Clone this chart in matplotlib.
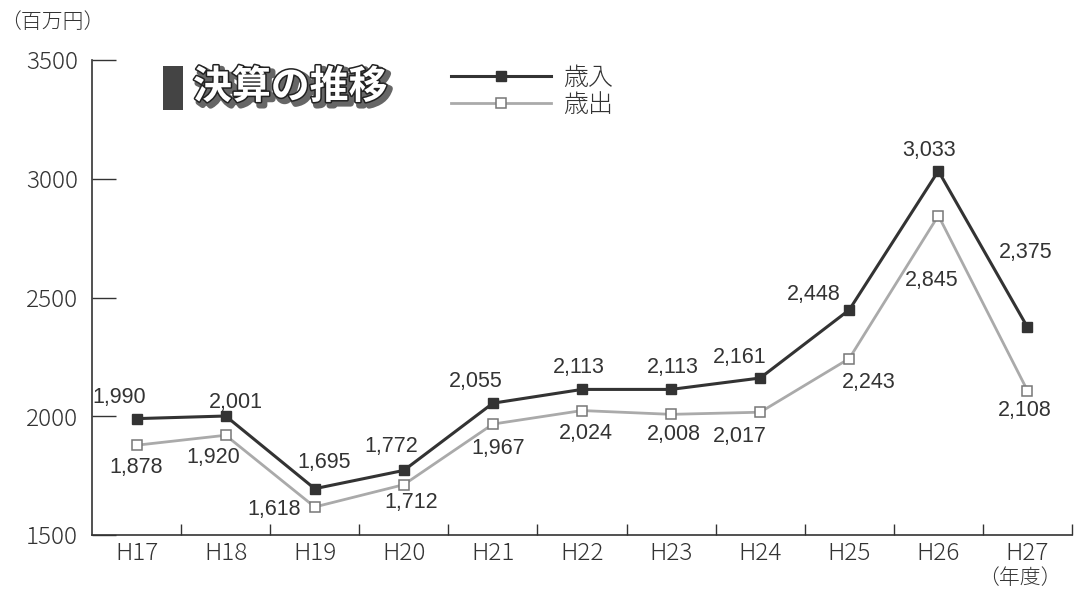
import matplotlib
matplotlib.use("Agg")
import matplotlib.pyplot as plt
import matplotlib.patheffects as pe
from matplotlib.lines import Line2D
from matplotlib.patches import Rectangle

categories = ["H17", "H18", "H19", "H20", "H21", "H22", "H23", "H24", "H25", "H26", "H27"]
revenue = [1990, 2001, 1695, 1772, 2055, 2113, 2113, 2161, 2448, 3033, 2375]
expenditure = [1878, 1920, 1618, 1712, 1967, 2024, 2008, 2017, 2243, 2845, 2108]
yticks = [1500, 2000, 2500, 3000, 3500]

# label offsets in pixels (dx, dy)
rev_off = [(-17, 21), (10, 14), (9, 26), (-13, 24), (-17, 22), (-3, 22), (2, 22),
           (-20, 21), (-36, 15), (-9, 20), (-2, 75)]
exp_off = [(0, -22), (-12, -22), (-41, -3), (7, -18), (5, -24), (4, -23), (3, -20),
           (-20, -24), (19, -24), (-7, -65), (-3, -20)]

JP = ["Noto Sans CJK JP", "DejaVu Sans"]
NUM = ["Liberation Sans", "DejaVu Sans"]

fig = plt.figure(figsize=(10.8, 5.95), dpi=100)
ax = fig.add_axes([92/1080, 1-535/595, (1072-92)/1080, (535-60)/595])

x = list(range(len(categories)))
ax.plot(x, expenditure, color="#aaaaaa", lw=2.0, marker="s", ms=7,
        mfc="white", mec="#777777", mew=1.1, zorder=3, label="歳出")
ax.plot(x, revenue, color="#333333", lw=2.2, marker="s", ms=7.5,
        mfc="#333333", mec="#333333", zorder=4, label="歳入")

for i, v in enumerate(revenue):
    ax.annotate(f"{v:,}", (i, v), xytext=rev_off[i], textcoords="offset pixels",
                ha="center", va="center", fontsize=15.5, family=NUM, color="#333333")
for i, v in enumerate(expenditure):
    ax.annotate(f"{v:,}", (i, v), xytext=exp_off[i], textcoords="offset pixels",
                ha="center", va="center", fontsize=15.5, family=NUM, color="#333333")

ax.set_xlim(-0.5, len(categories) - 0.5)
ax.set_ylim(1500, 3500)
ax.set_yticks(yticks)
ax.set_yticklabels([str(t) for t in yticks], family=JP, fontsize=17.5, color="#333333",
                   fontweight="light")
ax.set_xticks(x)
ax.set_xticklabels(categories, family=JP, fontsize=17.5, color="#333333", fontweight="light")
ax.set_xticks([i + 0.5 for i in x], minor=True)
ax.tick_params(axis="x", which="major", length=0, pad=4)
ax.tick_params(axis="x", which="minor", direction="in", length=8, width=1.0, color="#333333")
ax.tick_params(axis="y", which="major", direction="in", length=17, width=1.0, color="#333333", pad=10)
for s in ["top", "right"]:
    ax.spines[s].set_visible(False)
for s in ["left", "bottom"]:
    ax.spines[s].set_color("#333333")
    ax.spines[s].set_linewidth(1.2)

# legend
handles = [Line2D([], [], color="#333333", lw=2.2, marker="s", ms=7.5, mfc="#333333", mec="#333333"),
           Line2D([], [], color="#aaaaaa", lw=2.0, marker="s", ms=7, mfc="white", mec="#777777", mew=1.1)]
leg = ax.legend(handles, ["歳入", "歳出"], loc="upper left", bbox_to_anchor=(438/1080, 1-52/595),
                bbox_transform=fig.transFigure, frameon=False,
                prop={"family": JP, "size": 18, "weight": "light"},
                handlelength=4.0, handletextpad=0.5, labelspacing=0.0, borderpad=0)
for t in leg.get_texts():
    t.set_color("#333333")

# title with block
fig.patches.append(Rectangle((163/1080, 1-110/595), 20/1080, 44/595, transform=fig.transFigure,
                             facecolor="#444444", edgecolor="none"))
fig.text(193/1080, 1-87/595, "決算の推移", family=JP, fontsize=28, fontweight="bold",
         color="white", ha="left", va="center",
         path_effects=[pe.Stroke(linewidth=4.5, foreground="#666666", offset=(2.5, -2.5)),
                       pe.Stroke(linewidth=2.2, foreground="#222222"), pe.Normal()])

fig.text(0/1080, 1-22/595, "（百万円）", family=JP, fontsize=15, color="#333333", ha="left",
         va="center", fontweight="light")
fig.text(1020/1080, 1-578/595, "（年度）", family=JP, fontsize=15, color="#333333", ha="center",
         va="center", fontweight="light")

fig.savefig("out.png", dpi=100)
